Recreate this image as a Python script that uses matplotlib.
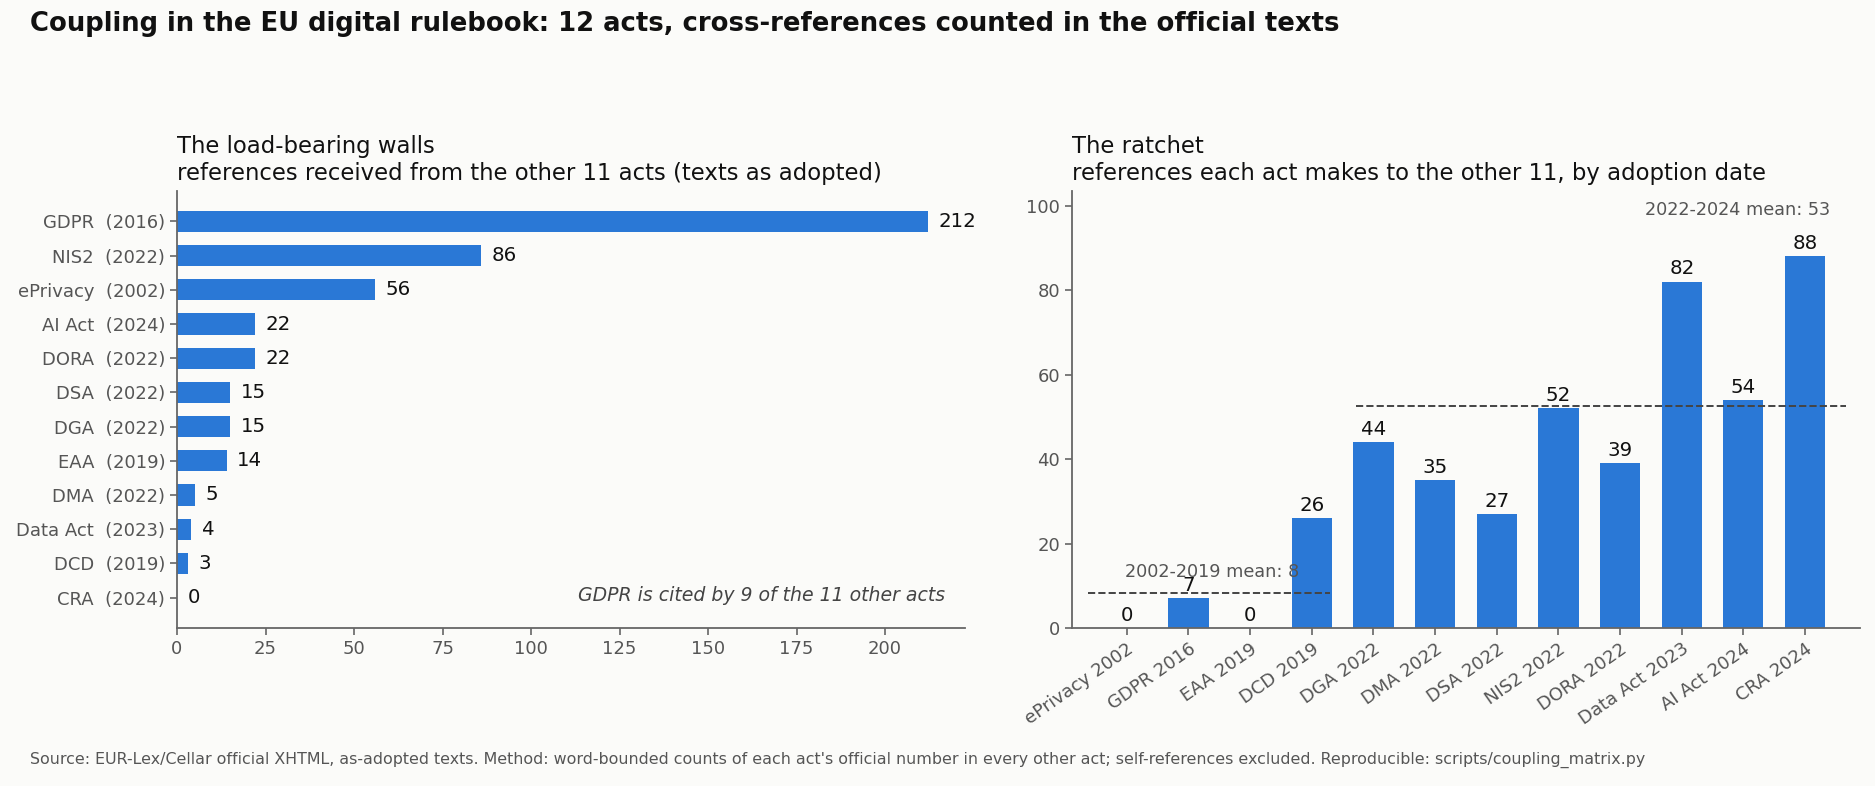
import matplotlib
matplotlib.use("Agg")
import matplotlib.pyplot as plt
import numpy as np

# ---- data ----
recv_labels = ["GDPR  (2016)", "NIS2  (2022)", "ePrivacy  (2002)", "AI Act  (2024)",
               "DORA  (2022)", "DSA  (2022)", "DGA  (2022)", "EAA  (2019)",
               "DMA  (2022)", "Data Act  (2023)", "DCD  (2019)", "CRA  (2024)"]
recv_values = [212, 86, 56, 22, 22, 15, 15, 14, 5, 4, 3, 0]

made_labels = ["ePrivacy 2002", "GDPR 2016", "EAA 2019", "DCD 2019", "DGA 2022",
               "DMA 2022", "DSA 2022", "NIS2 2022", "DORA 2022", "Data Act 2023",
               "AI Act 2024", "CRA 2024"]
made_values = [0, 7, 0, 26, 44, 35, 27, 52, 39, 82, 54, 88]
early_count = 4  # acts adopted 2002-2019

BG = "#fbfbf9"
BAR = "#2a78d6"
SPINE = "#666666"
TICK = "#555555"

plt.rcParams['font.family'] = ['DejaVu Sans']
fig = plt.figure(figsize=(18.75, 7.86), dpi=100, facecolor=BG)

axL = fig.add_axes([0.0944, 0.201, 0.4203, 0.556], facecolor=BG)
axR = fig.add_axes([0.5717, 0.201, 0.4203, 0.556], facecolor=BG)

for ax in (axL, axR):
    for s in ("top", "right"):
        ax.spines[s].set_visible(False)
    for s in ("left", "bottom"):
        ax.spines[s].set_color(SPINE)
        ax.spines[s].set_linewidth(1.3)
    ax.tick_params(colors=SPINE, labelcolor=TICK, labelsize=13, length=5, width=1.2)

# ---- left: references received ----
ypos = np.arange(len(recv_values))
axL.barh(ypos, recv_values, height=0.62, color=BAR)
axL.set_yticks(ypos)
axL.set_yticklabels(recv_labels)
axL.invert_yaxis()
vmax = max(recv_values)
axL.set_xlim(0, vmax * 1.05)
axL.set_xticks([0, 25, 50, 75, 100, 125, 150, 175, 200])
for y, v in zip(ypos, recv_values):
    axL.text(v + 3, y, str(v), va="center", ha="left", fontsize=14.2, color="#111111")
axL.text(0.975, 0.075, "GDPR is cited by 9 of the 11 other acts",
         transform=axL.transAxes, ha="right", va="center", style="italic",
         fontsize=13.6, color="#444444")
axL.set_title("The load-bearing walls\nreferences received from the other 11 acts (texts as adopted)",
              loc="left", fontsize=16.4, color="#111111", pad=8)

# ---- right: references made ----
xpos = np.arange(len(made_values))
axR.bar(xpos, made_values, width=0.65, color=BAR)
axR.set_xticks(xpos)
axR.set_xticklabels(made_labels, rotation=35, ha="right", rotation_mode="anchor")
axR.set_xlim(-0.89, len(made_values) - 1 + 0.89)
axR.set_ylim(0, 103.5)
axR.set_yticks([0, 20, 40, 60, 80, 100])
for x, v in zip(xpos, made_values):
    axR.text(x, v + 0.8, str(v), ha="center", va="bottom", fontsize=14.2, color="#111111")

early_mean = np.mean(made_values[:early_count])
late_mean = np.mean(made_values[early_count:])
axR.hlines(early_mean, -0.63, early_count - 0.7, colors="#444444", linestyles="--", linewidth=1.4)
axR.hlines(late_mean, early_count - 0.28, len(made_values) - 0.34, colors="#444444",
           linestyles="--", linewidth=1.4)
axR.text((-0.63 + early_count - 0.7) / 2 + 0.05, early_mean + 3.0,
         f"2002-2019 mean: {early_mean:.0f}", ha="center", va="bottom", fontsize=12.7, color="#555555")
axR.text(len(made_values) - 0.6, 99, f"2022-2024 mean: {late_mean:.0f}",
         ha="right", va="center", fontsize=12.7, color="#555555")
axR.set_title("The ratchet\nreferences each act makes to the other 11, by adoption date",
              loc="left", fontsize=16.4, color="#111111", pad=8)

fig.text(0.016, 0.970, "Coupling in the EU digital rulebook: 12 acts, cross-references counted in the official texts",
         fontsize=18.6, fontweight="bold", ha="left", va="center", color="#111111")
fig.text(0.016, 0.033,
         "Source: EUR-Lex/Cellar official XHTML, as-adopted texts. Method: word-bounded counts of each act's "
         "official number in every other act; self-references excluded. Reproducible: scripts/coupling_matrix.py",
         fontsize=11.4, ha="left", va="center", color="#555555")

fig.savefig("out.png", dpi=100, facecolor=BG)
